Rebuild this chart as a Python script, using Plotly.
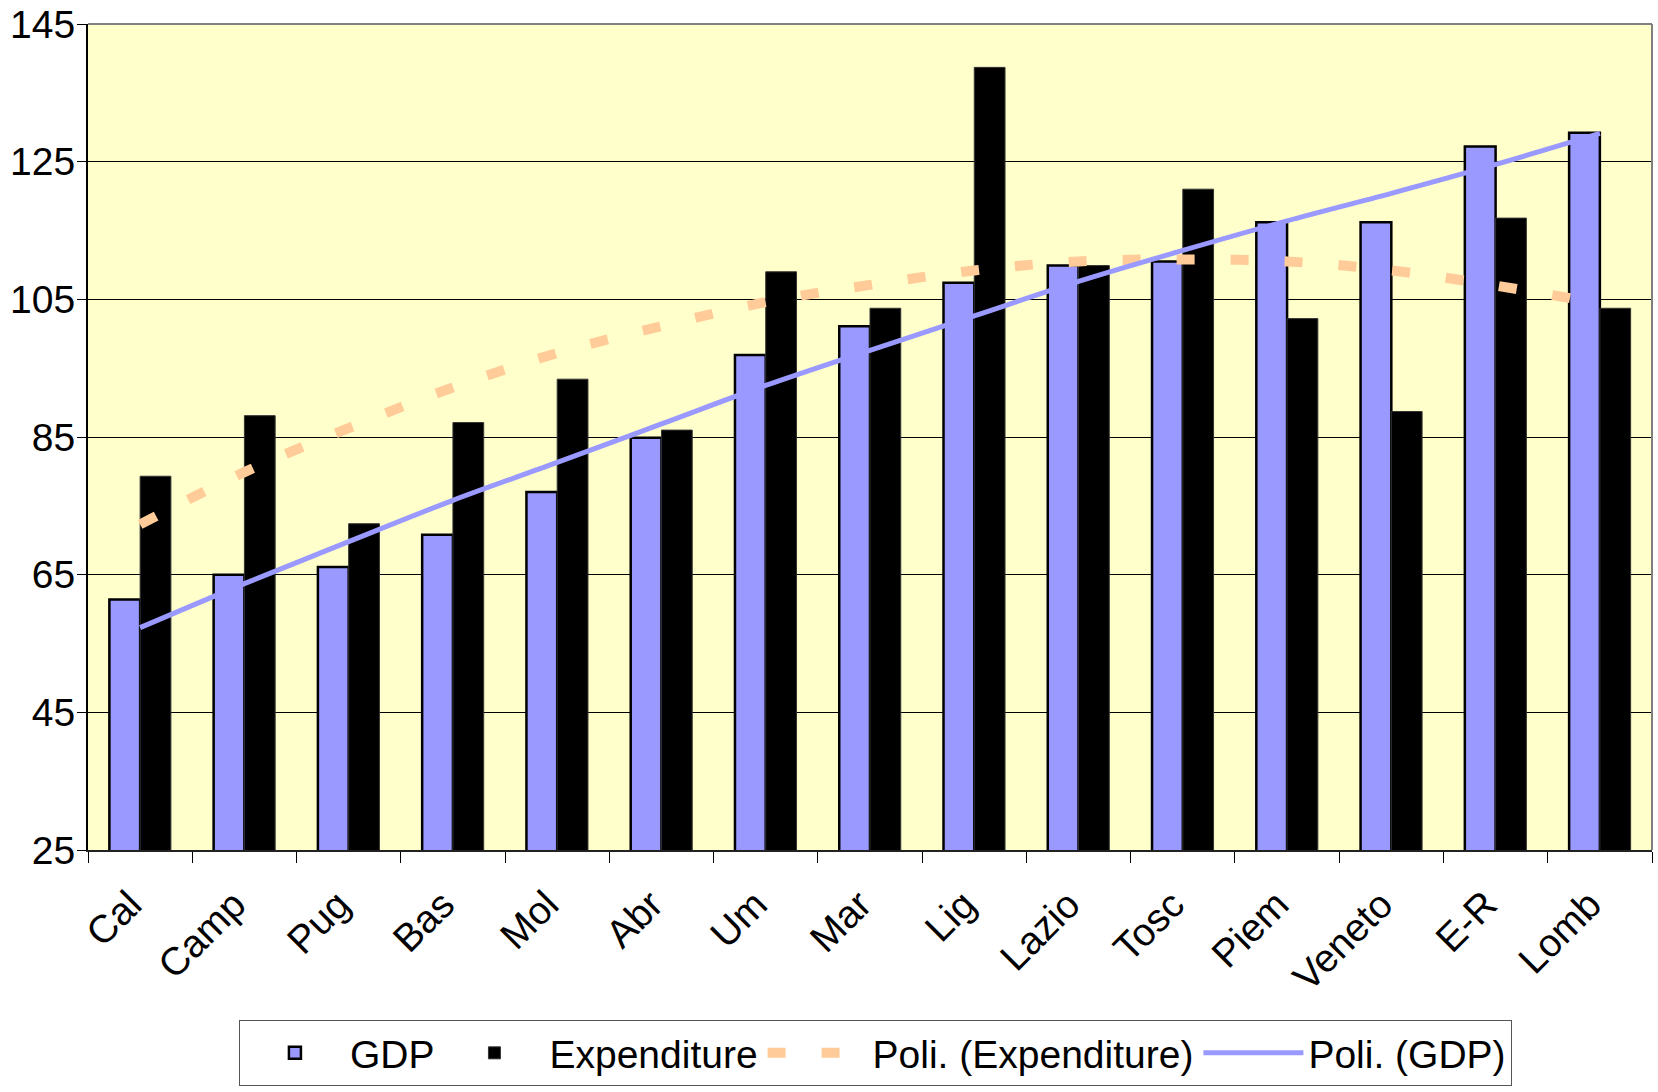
import plotly.graph_objects as go

regions = ["Cal", "Camp", "Pug", "Bas", "Mol", "Abr", "Um", "Mar", "Lig",
           "Lazio", "Tosc", "Piem", "Veneto", "E-R", "Lomb"]
gdp = [61.4, 65.0, 66.1, 70.8, 77.0, 84.9, 96.9, 101.1, 107.4,
       109.9, 110.5, 116.2, 116.2, 127.2, 129.2]
expenditure = [79.3, 88.1, 72.4, 87.1, 93.4, 86.0, 109.0, 103.7, 138.7,
               109.9, 121.0, 102.2, 88.7, 116.8, 103.7]
# trendline values at each category
poly_expenditure = [72.3, 79.9, 86.3, 92.2, 97.2, 101.1, 104.6, 107.1, 109.2,
                    110.5, 110.8, 110.5, 109.2, 107.0, 104.4]
poly_gdp = [57.3, 63.7, 69.8, 75.8, 81.3, 86.9, 92.5, 97.6, 102.6,
            107.6, 112.1, 116.4, 120.4, 124.6, 129.1]
y_ticks = [25, 45, 65, 85, 105, 125, 145]

FONT = "Arial, Liberation Sans, sans-serif"

fig = go.Figure()
fig.add_trace(go.Bar(x=regions, y=gdp, name="GDP",
                     marker=dict(color="#9999FF", line=dict(color="black", width=2.5))))
fig.add_trace(go.Bar(x=regions, y=expenditure, name="Expenditure",
                     marker=dict(color="#000000", line=dict(color="#333333", width=1))))
fig.add_trace(go.Scatter(x=regions, y=poly_expenditure, name="Poli. (Expenditure)",
                         mode="lines", line=dict(color="#FFCC99", width=10, dash="18px,36px",
                                                 shape="spline")))
fig.add_trace(go.Scatter(x=regions, y=poly_gdp, name="Poli. (GDP)",
                         mode="lines", line=dict(color="#9999FF", width=5, shape="spline")))

fig.update_layout(
    width=1658, height=1092,
    margin=dict(l=88, r=6, t=24, b=242, autoexpand=False),
    paper_bgcolor="white", plot_bgcolor="#FFFFCC",
    barmode="group", bargap=0.41, bargroupgap=0,
    font=dict(family=FONT, color="black", size=38),
    showlegend=True,
    legend=dict(orientation="h", x=0.0965, y=-0.2058, xanchor="left", yanchor="top",
                bgcolor="white", bordercolor="#555555", borderwidth=1,
                font=dict(family=FONT, size=39, color="black"),
                itemwidth=100, traceorder="normal"),
    shapes=[
        dict(type="line", xref="paper", yref="paper", x0=0, x1=1, y0=1, y1=1,
             line=dict(color="#808080", width=2), layer="above"),
        dict(type="line", xref="paper", yref="paper", x0=1, x1=1, y0=0, y1=1,
             line=dict(color="#808080", width=2), layer="above"),
    ],
)
fig.update_xaxes(type="category", tickson="boundaries", ticks="outside", ticklen=11,
                 tickcolor="black", tickwidth=1, tickangle=-45,
                 ticklabelstandoff=14, ticklabelshift=-10,
                 showline=True, linecolor="#222222", linewidth=2,
                 showgrid=False, tickfont=dict(size=39, family=FONT))
fig.update_yaxes(range=[25, 145], tickvals=y_ticks, ticks="outside", ticklen=9,
                 tickcolor="black", showline=True, linecolor="black", linewidth=2,
                 ticklabelstandoff=-6, ticklabeloverflow="allow",
                 showgrid=True, gridcolor="black", gridwidth=1, zeroline=False,
                 tickfont=dict(size=39, family=FONT))

fig.write_html("out.html", config={"displayModeBar": False},
               post_script="document.body.style.margin='0';document.body.style.overflow='hidden';")
